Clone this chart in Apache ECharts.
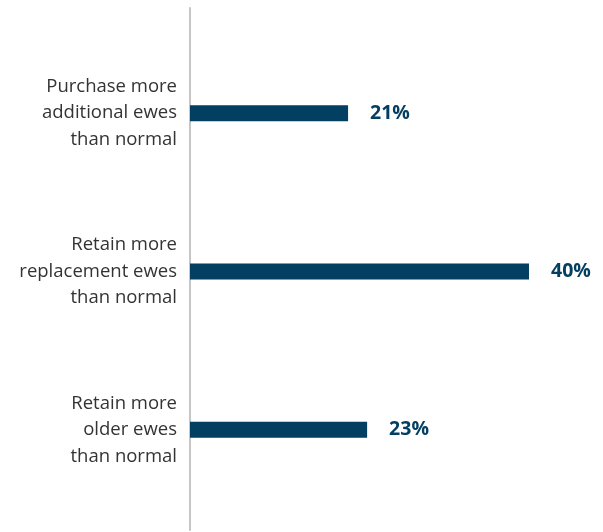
<!DOCTYPE html>
<html>
<head>
<meta charset="utf-8">
<script src="https://cdn.jsdelivr.net/npm/echarts@6/dist/echarts.min.js"></script>
<style>
  html, body { margin: 0; padding: 0; background: #fff; }
  #main { width: 603px; height: 532px; }
</style>
</head>
<body>
<div id="main"></div>
<script>
// data
var categories = [
    'Purchase more\nadditional ewes\nthan normal',
    'Retain more\nreplacement ewes\nthan normal',
    'Retain more\nolder ewes\nthan normal'
];
var values = [21, 40, 23];

var barColor = '#033f60';
var myChart = echarts.init(document.getElementById('main'));

var option = {
    animation: false,
    grid: [
        // bars
        {left: 190, top: 34, width: 339, height: 475},
        // taller grid only for the vertical axis line
        {left: 190, top: 8, width: 339, height: 522}
    ],
    xAxis: [
        {
            gridIndex: 0,
            type: 'value',
            min: 4.4,
            max: 40,
            show: false
        },
        {
            gridIndex: 1,
            type: 'value',
            show: false
        }
    ],
    yAxis: [
        {
            gridIndex: 0,
            type: 'category',
            inverse: true,
            data: categories,
            axisLine: {show: false},
            axisTick: {show: false},
            axisLabel: {
                margin: 13,
                align: 'right',
                color: '#333333',
                fontFamily: 'Open Sans',
                fontSize: 18.5,
                lineHeight: 26.5
            }
        },
        {
            gridIndex: 1,
            type: 'category',
            data: [],
            axisLine: {show: true, lineStyle: {color: '#c6c6c6', width: 2}},
            axisTick: {show: false},
            axisLabel: {show: false}
        }
    ],
    series: [
        {
            type: 'bar',
            xAxisIndex: 0,
            yAxisIndex: 0,
            data: values,
            barWidth: 16,
            itemStyle: {color: barColor},
            label: {
                show: true,
                position: 'right',
                distance: 22,
                formatter: '{c}%',
                color: barColor,
                fontFamily: 'Open Sans',
                fontWeight: 'bold',
                fontSize: 19.5
            }
        }
    ]
};

myChart.setOption(option);
</script>
</body>
</html>
